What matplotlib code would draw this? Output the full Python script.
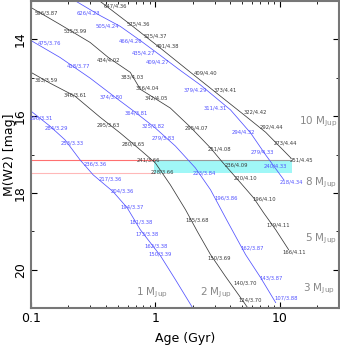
import matplotlib
matplotlib.use("Agg")
import matplotlib.pyplot as plt
from matplotlib.patches import Rectangle
from matplotlib.ticker import FixedLocator, NullFormatter

# --- tracks: age (Gyr) vs M(W2) ---
# 1 MJup (blue)
age_1 = [0.100, 0.142, 0.188, 0.248, 0.316, 0.458, 0.594, 0.757, 1.10, 1.45, 1.99]
mag_1 = [15.87, 16.26, 16.62, 17.14, 17.53, 17.97, 18.39, 18.96, 19.64, 20.26, 20.99]
lab_age_1 = [0.120, 0.159, 0.214, 0.328, 0.434, 0.542, 0.653, 0.771, 0.861, 1.02, 1.10]
lab_mag_1 = [16.05, 16.31, 16.70, 17.25, 17.64, 17.95, 18.36, 18.75, 19.06, 19.38, 19.58]
lab_txt_1 = ["296/3.31", "284/3.29", "253/3.33", "236/3.36", "217/3.36", "204/3.36",
             "194/3.37", "181/3.38", "173/3.38", "162/3.38", "150/3.39"]

# 2 MJup (black)
age_2 = [0.100, 0.142, 0.226, 0.360, 0.522, 0.757, 1.00, 1.32, 1.75, 2.18, 2.78, 3.67, 4.85, 5.52]
mag_2 = [14.86, 15.14, 15.48, 16.03, 16.44, 16.88, 17.22, 17.79, 18.44, 19.01, 19.61, 20.18, 20.73, 20.99]
lab_age_2 = [0.132, 0.226, 0.418, 0.665, 0.879, 1.14, 2.18, 3.28, 5.32, 5.84]
lab_mag_2 = [15.06, 15.45, 16.23, 16.73, 17.14, 17.45, 18.70, 19.69, 20.34, 20.78]
lab_txt_2 = ["363/3.59", "346/3.61", "295/3.63", "280/3.65", "241/3.66", "228/3.66",
             "185/3.68", "150/3.69", "140/3.70", "124/3.70"]

# 3 MJup (blue)
age_3 = [0.100, 0.171, 0.299, 0.476, 0.690, 1.00, 1.45, 2.10, 2.78, 3.74, 5.32, 7.03, 9.29]
mag_3 = [14.03, 14.47, 15.01, 15.51, 15.90, 16.31, 16.78, 17.35, 17.92, 18.70, 19.61, 20.21, 20.86]
lab_age_3 = [0.142, 0.239, 0.442, 0.703, 0.963, 1.16, 2.48, 3.74, 6.06, 8.46, 11.2]
lab_mag_3 = [14.10, 14.70, 15.51, 15.92, 16.26, 16.57, 17.48, 18.13, 19.43, 20.21, 20.73]
lab_txt_3 = ["475/3.76", "418/3.77", "374/3.80", "364/3.81", "325/3.82", "279/3.83",
             "223/3.84", "196/3.86", "162/3.87", "143/3.87", "107/3.88"]

# 5 MJup (black)
age_5 = [0.100, 0.171, 0.299, 0.418, 0.629, 0.757, 1.32, 1.92, 2.78, 3.34, 4.85, 6.17, 7.43, 9.29, 11.8]
mag_5 = [13.17, 13.61, 14.08, 14.47, 14.86, 15.30, 15.79, 16.29, 16.83, 17.14, 17.74, 18.13, 18.52, 18.96, 19.48]
lab_age_5 = [0.132, 0.226, 0.418, 0.653, 0.861, 1.02, 2.14, 3.28, 4.50, 5.32, 7.57, 9.82, 13.0]
lab_mag_5 = [13.30, 13.79, 14.55, 14.99, 15.27, 15.53, 16.31, 16.86, 17.27, 17.61, 18.16, 18.83, 19.53]
lab_txt_5 = ["596/3.87", "535/3.99", "434/4.02", "383/4.03", "356/4.04", "342/4.05", "295/4.07",
             "251/4.08", "236/4.09", "220/4.10", "196/4.10", "179/4.11", "166/4.11"]

# 8 MJup (blue)
age_8 = [0.231, 0.360, 0.522, 0.757, 1.10, 1.59, 2.31, 4.03, 5.84, 7.71, 10.8]
mag_8 = [13.01, 13.38, 13.66, 14.03, 14.42, 14.81, 15.19, 15.84, 16.44, 17.01, 17.66]
lab_age_8 = [0.288, 0.410, 0.629, 0.800, 1.04, 2.10, 3.05, 5.12, 7.29, 9.29, 12.5]
lab_mag_8 = [13.32, 13.64, 14.05, 14.36, 14.60, 15.32, 15.79, 16.42, 16.94, 17.30, 17.71]
lab_txt_8 = ["626/4.23", "505/4.24", "466/4.26", "435/4.27", "409/4.27", "379/4.29",
             "311/4.31", "294/4.32", "279/4.33", "240/4.33", "218/4.34"]

# 10 MJup (black)
age_10 = [0.360, 0.629, 1.10, 1.92, 3.34, 5.32, 7.71, 12.3]
mag_10 = [13.01, 13.61, 14.23, 14.86, 15.48, 16.00, 16.42, 17.09]
lab_age_10 = [0.476, 0.730, 1.00, 1.25, 2.53, 3.67, 6.40, 8.62, 11.2, 15.0]
lab_mag_10 = [13.12, 13.61, 13.90, 14.16, 14.88, 15.32, 15.90, 16.29, 16.70, 17.14]
lab_txt_10 = ["647/4.36", "575/4.36", "525/4.37", "491/4.38", "409/4.40", "373/4.41",
              "322/4.42", "292/4.44", "273/4.44", "251/4.45"]

# mass labels
mass_txt = ["1", "2", "3", "5", "8", "10"]
mass_age = [0.946, 3.05, 20.6, 21.4, 21.4, 20.6]
mass_mag = [20.60, 20.60, 20.49, 19.19, 17.74, 16.16]

# observed object: magnitude range and age range
obs_mag_hi = 17.14
obs_mag_lo = 17.48
obs_age = [0.97, 12.5]

BLUE = "#5252ff"
BLACK = "#3a3a3a"

fig = plt.figure(figsize=(3.4, 3.45), dpi=100)
ax = fig.add_axes([31 / 340, 1 - 308 / 345, 308 / 340, 307 / 345])

tracks = [
    (age_1, mag_1, lab_age_1, lab_mag_1, lab_txt_1, BLUE),
    (age_2, mag_2, lab_age_2, lab_mag_2, lab_txt_2, BLACK),
    (age_3, mag_3, lab_age_3, lab_mag_3, lab_txt_3, BLUE),
    (age_5, mag_5, lab_age_5, lab_mag_5, lab_txt_5, BLACK),
    (age_8, mag_8, lab_age_8, lab_mag_8, lab_txt_8, BLUE),
    (age_10, mag_10, lab_age_10, lab_mag_10, lab_txt_10, BLACK),
]

# box + lines for the object
ax.add_patch(Rectangle((obs_age[0], obs_mag_hi), obs_age[1] - obs_age[0], obs_mag_lo - obs_mag_hi,
                       facecolor="#a0f7f7", edgecolor="none", zorder=1))
ax.plot(obs_age, [obs_mag_hi, obs_mag_hi], color="#999999", lw=0.8, zorder=1.5)
ax.plot([0.1, obs_age[0]], [obs_mag_hi, obs_mag_hi], color="#ff7070", lw=0.8, zorder=1.5)
ax.plot([0.1, obs_age[0]], [obs_mag_lo, obs_mag_lo], color="#ffb8b8", lw=0.8, zorder=1.5)

for a, m, la, lm, lt, c in tracks:
    ax.plot(a, m, color=c, lw=0.55, zorder=2)
    for x, y, s in zip(la, lm, lt):
        ax.text(x, y, s, color=c, fontsize=3.8, ha="center", va="center", zorder=3)

for t, x, y in zip(mass_txt, mass_age, mass_mag):
    ax.text(x, y, t + r" M$_{\rm Jup}$", color="#888888", fontsize=7.5, ha="center", va="center")

ax.set_xscale("log")
ax.set_xlim(0.1, 30)
ax.set_ylim(21, 13)

ax.xaxis.set_major_locator(FixedLocator([0.1, 1, 10]))
ax.set_xticklabels(["0.1", "1", "10"])
ax.xaxis.set_minor_locator(FixedLocator([k * 10.0 ** e for e in (-1, 0, 1) for k in range(2, 10)]))
ax.xaxis.set_minor_formatter(NullFormatter())
ax.yaxis.set_major_locator(FixedLocator([14, 16, 18, 20]))
ax.yaxis.set_minor_locator(FixedLocator([13, 15, 17, 19, 21]))
ax.tick_params(which="both", direction="in", top=True, right=True, color="black")
ax.tick_params(which="major", length=4, width=0.8, labelsize=9, pad=3)
ax.tick_params(which="minor", length=2, width=0.6)
for lbl in ax.get_yticklabels():
    lbl.set_rotation(90)
    lbl.set_va("center")
for sp in ax.spines.values():
    sp.set_color("#777777")
    sp.set_linewidth(1.5)

ax.set_xlabel("Age (Gyr)", fontsize=9, labelpad=5)
ax.set_ylabel("M(W2) [mag]", fontsize=9)
ax.yaxis.set_label_coords(-0.05, 0.5)

fig.savefig("out.png", dpi=100, facecolor="white")
